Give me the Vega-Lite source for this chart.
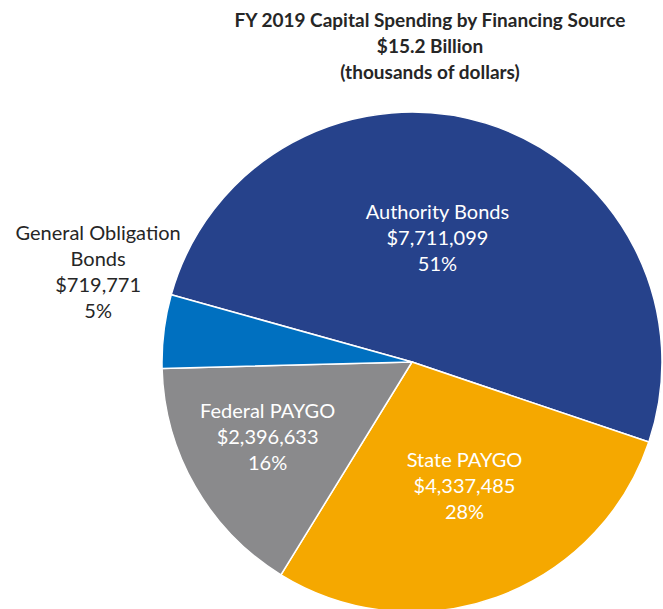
{
  "$schema": "https://vega.github.io/schema/vega-lite/v6.json",
  "autosize": "none",
  "width": 824,
  "height": 524,
  "padding": {"top": 100, "left": 0, "right": 0, "bottom": 0},
  "background": "white",
  "title": {
    "text": ["FY 2019 Capital Spending by Financing Source", "$15.2 Billion", "(thousands of dollars)"],
    "font": "Lato",
    "fontSize": 19,
    "fontWeight": "bold",
    "color": "#262626",
    "anchor": "middle",
    "baseline": "top",
    "dx": 18,
    "dy": -16,
    "lineHeight": 26,
    "offset": 0
  },
  "view": {"stroke": null},
  "data": {
    "values": [
      {"name": "Authority Bonds", "value": 7711099, "rank": 1, "label": "Authority Bonds\n$7,711,099\n51%"},
      {"name": "State PAYGO", "value": 4337485, "rank": 2, "label": "State PAYGO\n$4,337,485\n28%"},
      {"name": "Federal PAYGO", "value": 2396633, "rank": 3, "label": "Federal PAYGO\n$2,396,633\n16%"},
      {"name": "General Obligation Bonds", "value": 719771, "rank": 4, "label": "General Obligation\nBonds\n$719,771\n5%"}
    ]
  },
  "encoding": {
    "theta": {"field": "value", "type": "quantitative", "stack": true, "scale": {"range": [4.985, 11.268]}},
    "order": {"field": "rank", "type": "quantitative"}
  },
  "layer": [
    {
      "mark": {"type": "arc", "outerRadius": 250, "stroke": "white", "strokeWidth": 1.5},
      "encoding": {
        "color": {
          "field": "name",
          "type": "nominal",
          "legend": null,
          "scale": {
            "domain": ["Authority Bonds", "State PAYGO", "Federal PAYGO", "General Obligation Bonds"],
            "range": ["#26428B", "#F5A800", "#8A8A8C", "#0070C0"]
          }
        }
      }
    },
    {
      "mark": {"type": "text", "radius": 127, "dx": -12, "dy": -28, "fill": "white", "font": "Lato", "fontSize": 20, "lineBreak": "\n", "lineHeight": 26},
      "encoding": {"text": {"condition": {"test": "datum.name === 'Authority Bonds'", "field": "label"}, "value": ""}}
    },
    {
      "mark": {"type": "text", "radius": 134, "dx": 7, "dy": -27, "fill": "white", "font": "Lato", "fontSize": 20, "lineBreak": "\n", "lineHeight": 26},
      "encoding": {"text": {"condition": {"test": "datum.name === 'State PAYGO'", "field": "label"}, "value": ""}}
    },
    {
      "mark": {"type": "text", "radius": 162, "dx": -4, "dy": -31, "fill": "white", "font": "Lato", "fontSize": 20, "lineBreak": "\n", "lineHeight": 26},
      "encoding": {"text": {"condition": {"test": "datum.name === 'Federal PAYGO'", "field": "label"}, "value": ""}}
    },
    {
      "mark": {"type": "text", "radius": 150, "dx": -165, "dy": -110, "fill": "#262626", "font": "Lato", "fontSize": 20, "lineBreak": "\n", "lineHeight": 26},
      "encoding": {"text": {"condition": {"test": "datum.name === 'General Obligation Bonds'", "field": "label"}, "value": ""}}
    }
  ]
}
